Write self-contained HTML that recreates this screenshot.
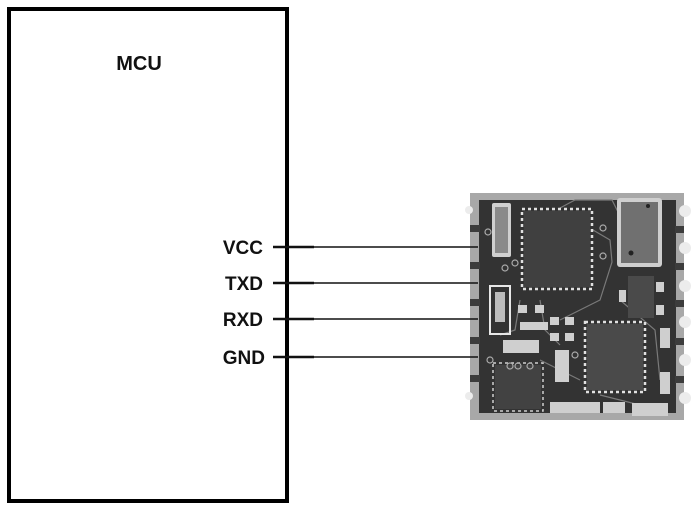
<!DOCTYPE html>
<html>
<head>
<meta charset="utf-8">
<style>
html,body{margin:0;padding:0;background:#fff;}
body{width:692px;height:512px;overflow:hidden;}
svg{display:block;}
text{font-family:"Liberation Sans",sans-serif;font-weight:bold;fill:#111;}
</style>
</head>
<body>
<svg width="692" height="512" viewBox="0 0 692 512" xmlns="http://www.w3.org/2000/svg">
  <!-- MCU box -->
  <rect x="9" y="9" width="278" height="492" fill="none" stroke="#000" stroke-width="4"/>
  <text x="139" y="70" font-size="20" text-anchor="middle">MCU</text>

  <!-- labels -->
  <text x="263" y="254" font-size="19" text-anchor="end">VCC</text>
  <text x="263" y="290" font-size="19" text-anchor="end">TXD</text>
  <text x="263" y="326" font-size="19" text-anchor="end">RXD</text>
  <text x="265" y="364" font-size="19" text-anchor="end">GND</text>

  <!-- module -->
  <g>
    <rect x="470" y="193" width="214" height="227" fill="#a8a8a8"/>
    <rect x="479" y="200" width="197" height="213" fill="#333"/>
    <!-- edge stripes -->
    <g fill="#3c3c3c">
      <rect x="470" y="225" width="10" height="7"/>
      <rect x="470" y="262" width="10" height="7"/>
      <rect x="470" y="299" width="10" height="7"/>
      <rect x="470" y="337" width="10" height="7"/>
      <rect x="470" y="375" width="10" height="7"/>
      <rect x="675" y="226" width="9" height="7"/>
      <rect x="675" y="263" width="9" height="7"/>
      <rect x="675" y="300" width="9" height="7"/>
      <rect x="675" y="338" width="9" height="7"/>
      <rect x="675" y="376" width="9" height="7"/>
    </g>
    <!-- castellation notches -->
    <g fill="#ececec">
      <circle cx="469" cy="210" r="4"/>
      <circle cx="469" cy="396" r="4"/>
      <circle cx="685" cy="211" r="6"/>
      <circle cx="685" cy="248" r="6"/>
      <circle cx="685" cy="286" r="6"/>
      <circle cx="685" cy="322" r="6"/>
      <circle cx="685" cy="360" r="6"/>
      <circle cx="685" cy="398" r="6"/>
    </g>
    <!-- traces -->
    <g stroke="#7a7a7a" stroke-width="1.2" fill="none">
      <path d="M560 208 L575 200 L612 200 L618 212"/>
      <path d="M593 230 L610 240 L612 262 L600 300 L560 320"/>
      <path d="M540 300 L545 330 L560 345"/>
      <path d="M520 300 L515 330 L500 335"/>
      <path d="M620 300 L655 330 L660 380"/>
      <path d="M540 360 L580 380"/>
      <path d="M600 395 L640 405"/>
    </g>
    <!-- crystal top-left -->
    <rect x="492" y="203" width="19" height="54" rx="2" fill="#d0d0d0"/>
    <rect x="495" y="207" width="13" height="46" fill="#8a8a8a"/>
    <!-- chip 1 -->
    <rect x="524" y="211" width="66" height="76" fill="#404040"/>
    <rect x="522" y="209" width="70" height="80" fill="none" stroke="#e0e0e0" stroke-width="2.5" stroke-dasharray="3 3"/>
    <!-- oscillator top-right -->
    <rect x="617" y="198" width="45" height="69" rx="3" fill="#cfcfcf"/>
    <rect x="621" y="202" width="37" height="61" fill="#707070"/>
    <circle cx="631" cy="253" r="2.5" fill="#222"/>
    <circle cx="648" cy="206" r="2" fill="#222"/>
    <!-- small chip right -->
    <rect x="628" y="276" width="26" height="42" fill="#4a4a4a"/>
    <rect x="656" y="282" width="8" height="10" fill="#cfcfcf"/>
    <rect x="656" y="305" width="8" height="10" fill="#cfcfcf"/>
    <rect x="619" y="290" width="7" height="12" fill="#cfcfcf"/>
    <!-- white component left -->
    <rect x="490" y="286" width="20" height="48" fill="none" stroke="#e8e8e8" stroke-width="2"/>
    <rect x="495" y="292" width="10" height="30" fill="#bdbdbd"/>
    <!-- small passives -->
    <g fill="#cfcfcf">
      <rect x="518" y="305" width="9" height="8"/>
      <rect x="535" y="305" width="9" height="8"/>
      <rect x="520" y="322" width="28" height="8"/>
      <rect x="550" y="317" width="9" height="8"/>
      <rect x="565" y="317" width="9" height="8"/>
      <rect x="550" y="333" width="9" height="8"/>
      <rect x="565" y="333" width="9" height="8"/>
      <rect x="503" y="340" width="36" height="13"/>
      <rect x="555" y="350" width="14" height="32"/>
      <rect x="660" y="328" width="10" height="20"/>
      <rect x="660" y="372" width="10" height="22"/>
      <rect x="632" y="403" width="36" height="13"/>
      <rect x="550" y="402" width="50" height="11"/>
      <rect x="603" y="402" width="22" height="11"/>
    </g>
    <!-- chip 2 -->
    <rect x="587" y="324" width="56" height="66" fill="#4a4a4a"/>
    <rect x="585" y="322" width="60" height="70" fill="none" stroke="#e0e0e0" stroke-width="2.5" stroke-dasharray="3 3"/>
    <!-- bottom-left chip -->
    <rect x="495" y="365" width="46" height="44" fill="#424242"/>
    <rect x="493" y="363" width="50" height="48" fill="none" stroke="#cfcfcf" stroke-width="1.5" stroke-dasharray="3 3"/>
    <!-- vias -->
    <g fill="none" stroke="#aaa" stroke-width="1.2">
      <circle cx="488" cy="232" r="3"/>
      <circle cx="505" cy="268" r="3"/>
      <circle cx="515" cy="263" r="3"/>
      <circle cx="603" cy="228" r="3"/>
      <circle cx="603" cy="256" r="3"/>
      <circle cx="510" cy="366" r="3"/>
      <circle cx="518" cy="366" r="3"/>
      <circle cx="530" cy="366" r="3"/>
      <circle cx="490" cy="360" r="3"/>
      <circle cx="575" cy="355" r="3"/>
    </g>
  </g>

  <!-- wires (on top) -->
  <g stroke="#111">
    <line x1="273" y1="247" x2="314" y2="247" stroke-width="2.6"/>
    <line x1="314" y1="247" x2="478" y2="247" stroke-width="1.6"/>
    <line x1="273" y1="283" x2="314" y2="283" stroke-width="2.6"/>
    <line x1="314" y1="283" x2="478" y2="283" stroke-width="1.6"/>
    <line x1="273" y1="319" x2="314" y2="319" stroke-width="2.6"/>
    <line x1="314" y1="319" x2="478" y2="319" stroke-width="1.6"/>
    <line x1="273" y1="357" x2="314" y2="357" stroke-width="2.6"/>
    <line x1="314" y1="357" x2="478" y2="357" stroke-width="1.6"/>
  </g>
</svg>
</body>
</html>
